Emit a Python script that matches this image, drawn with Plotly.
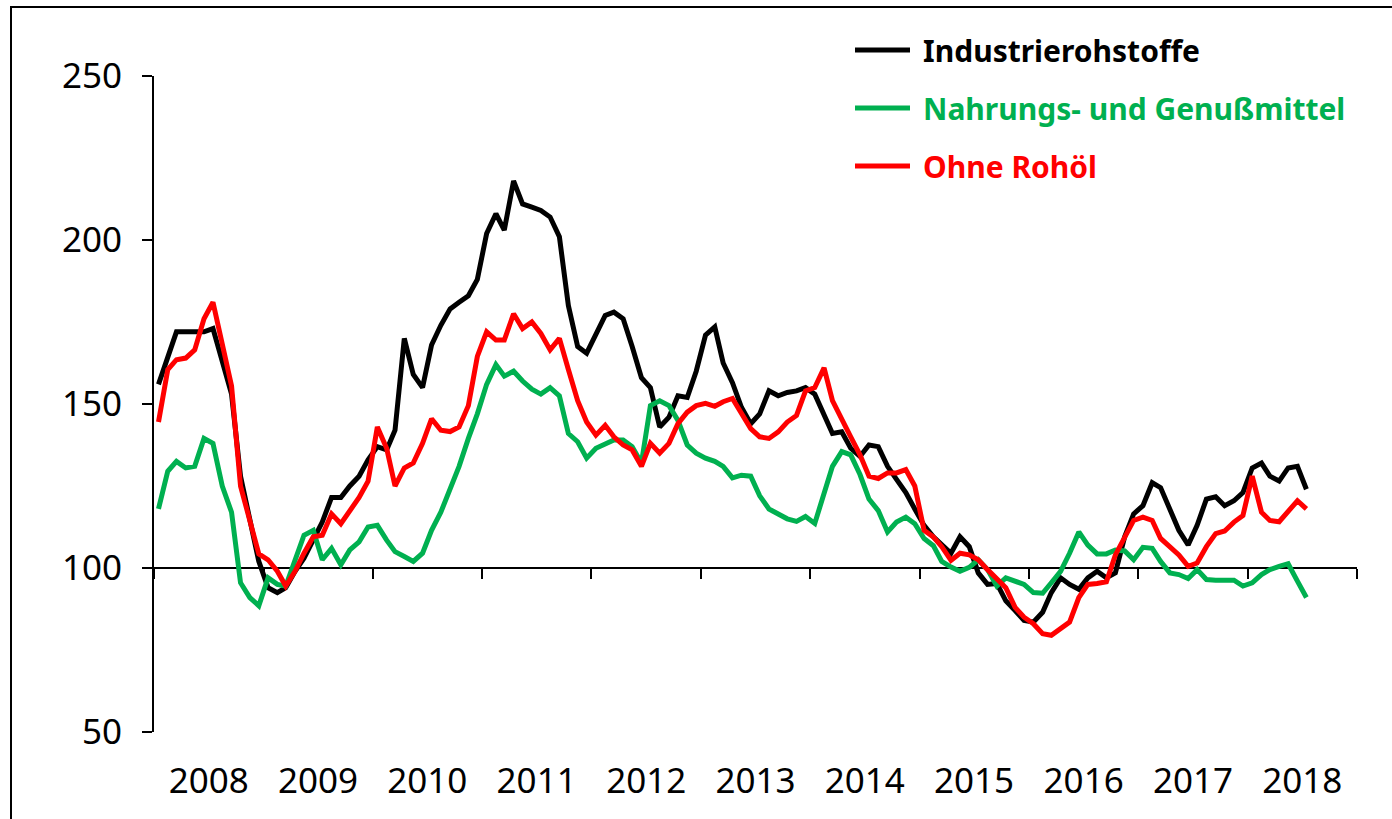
import pandas as pd
import plotly.graph_objects as go

# ---- data (monthly, Jan 2008 - Jul 2018) ----
months = pd.date_range("2008-01-01", "2018-07-01", freq="MS")

industrie = [156, 164, 172, 172, 172, 172, 173, 163, 153, 128, 115, 102, 94, 92.5, 94, 99, 103, 109, 114, 121.5,
             121.5, 125, 128, 133, 137, 136, 142, 170, 159, 155, 168, 174, 179, 181, 183, 188, 202, 208, 203, 218,
             211, 210, 209, 207, 201, 180, 167.5, 165.5, 171.5, 177, 178, 176, 167.5, 158, 155, 143, 146, 152.5, 152, 160,
             171, 173.5, 162.5, 156.5, 149, 144, 147, 154, 152.5, 153.5, 154, 155, 153, 146.5, 141, 141.5, 136.5, 134, 137.5, 137,
             131, 127, 123, 118, 113, 109.5, 107, 104.5, 109.5, 106.5, 98.5, 95, 95.3, 90, 87, 84, 83.5, 86.5, 92.5, 97,
             95, 93.5, 97, 99, 97, 98.5, 109.5, 116.5, 119, 126, 124.5, 118, 111.5, 107, 113, 121, 121.7, 119, 120.5, 123,
             130.5, 132, 128, 126.5, 130.5, 131, 124]

nahrung = [118, 129.5, 132.5, 130.5, 131, 139.5, 138, 125, 117, 95.5, 91, 88.5, 97, 95, 94.5, 102, 110, 111.5, 102.5, 106,
           101, 105.5, 108, 112.5, 113, 108.5, 105, 103.5, 102, 104.5, 111.5, 117, 124, 131, 139.5, 147, 156, 162, 158.5, 160,
           157, 154.5, 153, 155, 152.5, 141, 138.5, 133.5, 136.5, 138, 139, 139, 137, 132, 149.5, 151, 149.5, 145, 137.5, 135,
           133.5, 132.5, 131, 127.5, 128.3, 128, 122, 118, 116.5, 115, 114.2, 115.7, 113.6, 123, 131, 135.5, 134.5, 128.5, 121, 117.5,
           111, 114, 115.5, 113.5, 109, 106.8, 102, 100.3, 99, 100.2, 102.5, 99.5, 94.5, 97, 96, 95, 92.5, 92.3, 95.5, 99,
           104.5, 111, 107, 104.3, 104.3, 105.5, 105.2, 102.5, 106.3, 106, 102, 98.5, 98, 96.8, 99.5, 96.5, 96.3, 96.3, 96.3, 94.5,
           95.5, 98, 99.5, 100.5, 101.3, 96, 91]

ohne_rohoel = [144.5, 160.5, 163.5, 164, 166.5, 176, 181, 168, 155.5, 125, 114, 104.3, 102.5, 99, 94.5, 99, 104.5, 109.5, 110, 116.5,
               113.5, 117.5, 121.5, 126.5, 143, 136.5, 125, 130.5, 132, 138, 145.5, 142, 141.6, 143, 149.5, 164.5, 172, 169.5, 169.5, 177.5,
               173, 175, 171.5, 166.5, 170, 160.5, 151, 144.5, 140.5, 143.5, 140, 137.5, 136, 131, 138, 135, 138, 144, 147.5, 149.5,
               150.2, 149.3, 150.7, 151.7, 147, 142.5, 140, 139.5, 141.5, 144.5, 146.5, 154, 155, 161, 151, 145, 140, 134.5, 128, 127.3,
               129, 129, 130, 125, 111.5, 109.5, 106.5, 102.3, 104.5, 104, 102.5, 99.5, 96.5, 94, 88, 85, 83, 80, 79.5, 81.5,
               83.5, 91, 95, 95.3, 95.8, 104, 109, 114.5, 115.5, 114.5, 109, 106.5, 104, 100.5, 101.5, 106.5, 110.5, 111.3, 114, 116,
               128, 117, 114.5, 114.1, 117, 120.5, 118]

series_names = ["Industrierohstoffe", "Nahrungs- und Genußmittel", "Ohne Rohöl"]
series_colors = ["#000000", "#00B050", "#FF0000"]
years = list(range(2008, 2019))
y_ticks = [50, 100, 150, 200, 250]

# ---- figure geometry (pixels; body margin removed by post_script) ----
W, H = 1392, 819
L, T = 154, 76
R = W - 1357
B = H - 732
PW, PH = W - L - R, H - T - B


def px(xp):
    return (xp - L) / PW


def py(yp):
    return (H - B - yp) / PH


x = months + pd.Timedelta(days=15)

fig = go.Figure()
for name, vals, col in zip(series_names, [industrie, nahrung, ohne_rohoel], series_colors):
    fig.add_trace(go.Scatter(x=x, y=vals, mode="lines", name=name,
                             line=dict(color=col, width=5), showlegend=False))

# empty trace to hold the crossing axis at y=100
fig.add_trace(go.Scatter(x=[], y=[], xaxis="x2", yaxis="y", showlegend=False, hoverinfo="skip"))

font_family = "Noto Sans, DejaVu Sans, sans-serif"
xr = ["2008-01-01", "2019-01-01"]

fig.update_layout(
    width=W, height=H,
    margin=dict(l=L, r=R, t=T, b=B, pad=0),
    paper_bgcolor="white", plot_bgcolor="white",
    font=dict(family=font_family, color="black"),
    xaxis=dict(type="date", range=xr, showgrid=False, zeroline=False, showline=False,
               ticks="", tickvals=[f"{yr}-07-02" for yr in years],
               ticktext=[str(yr) for yr in years], tickfont=dict(size=35),
               ticklabelstandoff=25),
    xaxis2=dict(type="date", range=xr, overlaying="x", anchor="free", position=0.25,
                showgrid=False, zeroline=False, showline=True, linecolor="black", linewidth=2,
                ticks="outside", ticklen=10, tickwidth=2, tickcolor="black",
                tickvals=[f"{yr}-01-01" for yr in years + [2019]],
                showticklabels=False, layer="below traces"),
    yaxis=dict(range=[50, 250], tickvals=y_ticks, showgrid=False, zeroline=False,
               showline=True, linecolor="black", linewidth=2,
               ticks="outside", ticklen=10, tickwidth=2, tickcolor="black",
               tickfont=dict(size=35), ticklabelstandoff=13),
)

# outer frame (top and left edges visible)
fig.add_shape(type="rect", xref="paper", yref="paper",
              x0=px(11), x1=px(1430), y0=py(860), y1=py(7),
              line=dict(color="black", width=2), fillcolor="rgba(0,0,0,0)", layer="below")

# manual legend
leg_rows = [50, 108, 166]
for name, col, yr_ in zip(series_names, series_colors, leg_rows):
    fig.add_shape(type="line", xref="paper", yref="paper",
                  x0=px(855), x1=px(910), y0=py(yr_), y1=py(yr_),
                  line=dict(color=col, width=5))
    fig.add_annotation(xref="paper", yref="paper", x=px(921), y=py(yr_),
                       xanchor="left", yanchor="middle", showarrow=False,
                       text=f"<b>{name}</b>", font=dict(size=30, color=col, family=font_family))

fig.write_html("out.html", config={"displayModeBar": False},
               post_script="document.body.style.margin='0';")
